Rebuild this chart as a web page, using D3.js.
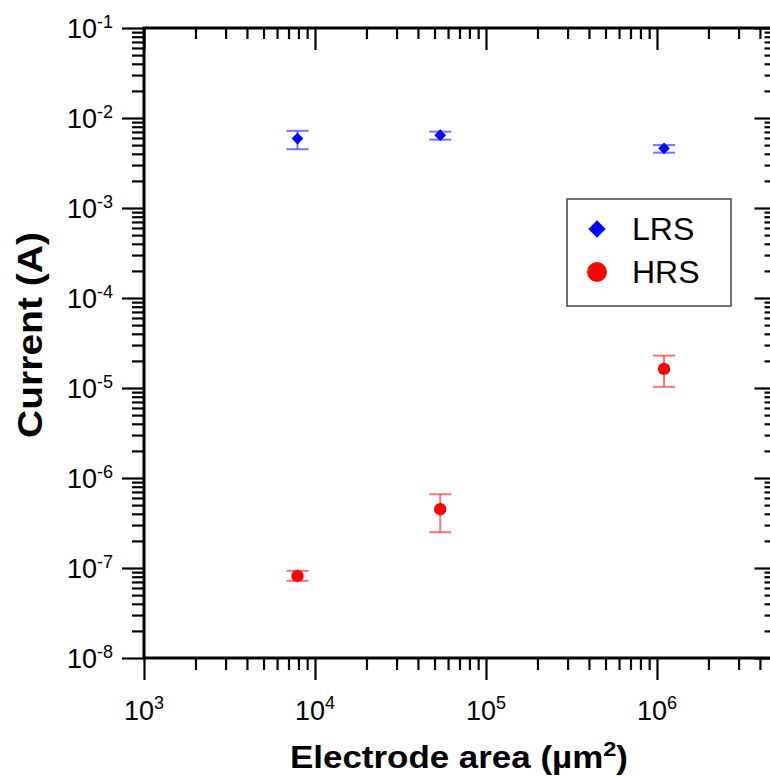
<!DOCTYPE html>
<html>
<head>
<meta charset="utf-8">
<script src="https://cdn.jsdelivr.net/npm/d3@7"></script>
<style>
  html, body { margin: 0; padding: 0; background: #fff; }
  svg { display: block; font-family: "Liberation Sans", Arial, sans-serif; }
</style>
</head>
<body>
<svg id="chart" width="770" height="776"></svg>
<script>
// Electrode area (µm²) for each device size
const areas = [7.9e3, 5.4e4, 1.1e6];
// Low resistance state current (A) with error bounds
const lrsMean = [5.9e-3, 6.45e-3, 4.6e-3];
const lrsHigh = [7.2e-3, 7.05e-3, 5.0e-3];
const lrsLow  = [4.5e-3, 5.75e-3, 4.12e-3];
// High resistance state current (A) with error bounds
const hrsMean = [8.15e-8, 4.5e-7, 1.63e-5];
const hrsHigh = [9.3e-8, 6.6e-7, 2.29e-5];
const hrsLow  = [7.2e-8, 2.5e-7, 1.03e-5];
// Axis decades
const xDecades = [3, 4, 5, 6];
const yDecades = [-1, -2, -3, -4, -5, -6, -7, -8];
const seriesNames = ["LRS", "HRS"];

const svg = d3.select("#chart");
const plotL = 144, plotR = 776.5, plotT = 28, plotB = 658;

const x = d3.scaleLog().domain([1e3, 5e6]).range([plotL, plotR]);
const y = d3.scaleLog().domain([1e-8, 1e-1]).range([plotB, plotT]);

// Major and minor tick positions on log axes
function minors(lo, hi) {
  const out = [];
  for (let e = lo; e < hi; e++) for (let m = 2; m <= 9; m++) out.push(m * Math.pow(10, e));
  return out;
}
const xMajor = d3.range(3, 7).map(e => Math.pow(10, e));
const xMinor = minors(3, 7).filter(v => v <= 5e6);
const yMajor = d3.range(-8, 0).map(e => Math.pow(10, e));
const yMinor = minors(-8, -1);

const blank = () => "";
function tickAxis(gen, scale, vals, size, transform) {
  const g = svg.append("g").attr("transform", transform)
    .call(gen(scale).tickValues(vals).tickSize(size).tickFormat(blank));
  g.select(".domain").remove();
  g.selectAll(".tick line").attr("stroke", "#000").attr("stroke-width", 2.2);
  return g;
}
// bottom: outward, left: outward, top & right: inward
tickAxis(d3.axisBottom, x, xMinor, 12, `translate(0,${plotB})`);
tickAxis(d3.axisBottom, x, xMajor, 22, `translate(0,${plotB})`);
tickAxis(d3.axisTop, x, xMinor, -11, `translate(0,${plotT})`);
tickAxis(d3.axisTop, x, xMajor, -22, `translate(0,${plotT})`);
tickAxis(d3.axisLeft, y, yMinor, 12, `translate(${plotL},0)`);
tickAxis(d3.axisLeft, y, yMajor, 22, `translate(${plotL},0)`);
tickAxis(d3.axisRight, y, yMinor, -12, `translate(${plotR},0)`);
tickAxis(d3.axisRight, y, yMajor, -22, `translate(${plotR},0)`);

// Frame
svg.append("rect")
  .attr("x", plotL).attr("y", plotT)
  .attr("width", plotR - plotL).attr("height", plotB - plotT)
  .attr("fill", "none").attr("stroke", "#000").attr("stroke-width", 3);

// Tick labels as 10 with superscript exponent
const labelSize = 27, supSize = 18;
yDecades.forEach(e => {
  const t = svg.append("text")
    .attr("x", 113).attr("y", y(Math.pow(10, e)) + 10)
    .attr("text-anchor", "end").attr("font-size", labelSize).attr("fill", "#000");
  t.append("tspan").text("10");
  t.append("tspan").attr("font-size", supSize).attr("dy", -10).text(String(e));
});
xDecades.forEach(e => {
  const t = svg.append("text")
    .attr("x", x(Math.pow(10, e))).attr("y", 720)
    .attr("text-anchor", "middle").attr("font-size", labelSize).attr("fill", "#000");
  t.append("tspan").text("10");
  t.append("tspan").attr("font-size", supSize).attr("dy", -11).text(String(e));
});

// Axis titles
const xt = svg.append("text")
  .attr("x", 459).attr("y", 768)
  .attr("text-anchor", "middle").attr("font-size", 31).attr("font-weight", "bold")
  .attr("textLength", 338).attr("lengthAdjust", "spacingAndGlyphs");
xt.append("tspan").text("Electrode area (µm");
xt.append("tspan").attr("font-size", 21).attr("dy", -12).text("2");
xt.append("tspan").attr("dy", 12).text(")");

svg.append("text")
  .attr("transform", `translate(42,335) rotate(-90)`)
  .attr("text-anchor", "middle").attr("font-size", 35).attr("font-weight", "bold")
  .attr("textLength", 206).attr("lengthAdjust", "spacingAndGlyphs")
  .text("Current (A)");

// Diamond as a square turned 45°
function markerTransform(shape, cx, cy) {
  return `translate(${cx},${cy})` + (shape === "diamond" ? " rotate(45)" : "");
}
const shapeOf = { diamond: d3.symbolSquare, circle: d3.symbolCircle };

// Error bars + markers
function drawSeries(mean, hi, lo, color, barColor, shape, size) {
  const g = svg.append("g");
  areas.forEach((a, i) => {
    const cx = x(a);
    g.append("line").attr("x1", cx).attr("x2", cx).attr("y1", y(hi[i])).attr("y2", y(lo[i]))
      .attr("stroke", barColor).attr("stroke-width", 2);
    [hi[i], lo[i]].forEach(v => {
      g.append("line").attr("x1", cx - 11).attr("x2", cx + 11).attr("y1", y(v)).attr("y2", y(v))
        .attr("stroke", barColor).attr("stroke-width", 2);
    });
    g.append("path")
      .attr("d", d3.symbol().type(shapeOf[shape]).size(size)())
      .attr("transform", markerTransform(shape, cx, y(mean[i])))
      .attr("fill", color);
  });
}
drawSeries(lrsMean, lrsHigh, lrsLow, "#0000ff", "rgba(70,70,255,0.75)", "diamond", 68);
drawSeries(hrsMean, hrsHigh, hrsLow, "#ff0000", "rgba(255,70,70,0.75)", "circle", 120);

// Legend
const lg = svg.append("g");
lg.append("rect").attr("x", 567).attr("y", 199).attr("width", 164).attr("height", 107)
  .attr("fill", "#fff").attr("stroke", "#444").attr("stroke-width", 1.5);
const legendItems = [
  { name: seriesNames[0], color: "#0000ff", shape: "diamond", size: 150, cy: 229 },
  { name: seriesNames[1], color: "#ff0000", shape: "circle", size: 310, cy: 272 }
];
legendItems.forEach(d => {
  lg.append("path").attr("d", d3.symbol().type(shapeOf[d.shape]).size(d.size)())
    .attr("transform", markerTransform(d.shape, 597, d.cy)).attr("fill", d.color);
  lg.append("text").attr("x", 632).attr("y", d.cy + 11)
    .attr("font-size", 32).attr("fill", "#000").text(d.name);
});
</script>
</body>
</html>
